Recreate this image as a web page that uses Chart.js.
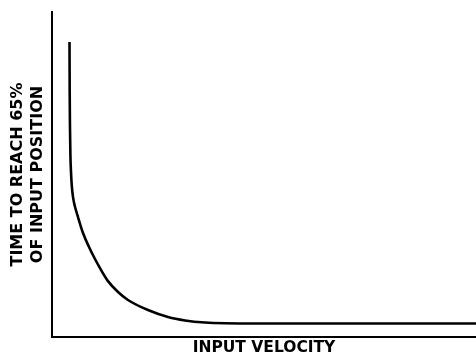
<!DOCTYPE html>
<html>
<head>
<meta charset="utf-8">
<script src="https://cdn.jsdelivr.net/npm/chart.js@4"></script>
<style>
  html, body { margin: 0; padding: 0; background: #fff; }
  #wrap { width: 476px; height: 357px; position: relative; }
</style>
</head>
<body>
<div id="wrap"><canvas id="responseChart"></canvas></div>
<script>
// response time vs. input velocity (arbitrary units, 0-100 on both axes)
const velocity = [4.13, 4.17, 4.25, 4.34, 4.48, 4.67, 4.95, 5.38, 6.13, 7.31, 8.73, 10.14, 11.32, 13.21, 15.57, 17.92, 22.64, 27.36, 31.37, 36.08, 40.8, 49.06, 100];
const timeTo65 = [90.8, 76.0, 63.7, 56.0, 50.8, 46.5, 43.1, 40.3, 36.9, 32.0, 27.7, 24.0, 21.2, 17.2, 13.85, 11.4, 8.3, 6.15, 5.1, 4.45, 4.22, 4.15, 4.15];

const xTitle = 'INPUT VELOCITY';
const yTitle = ['TIME TO REACH 65%', 'OF INPUT POSITION'];

document.addEventListener('DOMContentLoaded', () => {
    const ctx = document.getElementById('responseChart');
    const points = velocity.map((v, i) => ({ x: v, y: timeTo65[i] }));

    const axisBase = {
        type: 'linear',
        min: 0,
        max: 100,
        ticks: { display: false },
        grid: { display: false, drawTicks: false },
        border: { display: true, color: '#000', width: 2 }
    };

    new Chart(ctx, {
        type: 'scatter',
        data: {
            datasets: [{
                data: points,
                showLine: true,
                borderColor: '#000',
                borderWidth: 2.6,
                pointRadius: 0,
                cubicInterpolationMode: 'monotone',
                fill: false
            }]
        },
        options: {
            responsive: true,
            maintainAspectRatio: false,
            animation: false,
            layout: { padding: { left: 8, top: 12, right: 0, bottom: 0 } },
            plugins: {
                legend: { display: false },
                tooltip: { enabled: false }
            },
            scales: {
                x: {
                    ...axisBase,
                    title: {
                        display: true,
                        text: xTitle,
                        color: '#000',
                        font: { family: 'DejaVu Sans', weight: 'bold', size: 15.5, lineHeight: 1.16 },
                        padding: { top: 2, bottom: 0 }
                    }
                },
                y: {
                    ...axisBase,
                    title: {
                        display: true,
                        text: yTitle,
                        color: '#000',
                        font: { family: 'DejaVu Sans', weight: 'bold', size: 16, lineHeight: 1.25 },
                        padding: { top: 0, bottom: 4 }
                    }
                }
            }
        }
    });
});
</script>
</body>
</html>
